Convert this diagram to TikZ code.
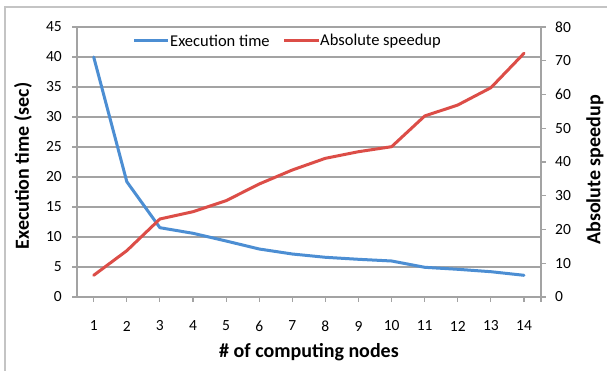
\documentclass[tikz,border=0pt]{standalone}
\usepackage{fontspec}
\setmainfont{Carlito}
\definecolor{serblue}{HTML}{4C8ED3}
\definecolor{serred}{HTML}{DC4D47}
\definecolor{gridgray}{HTML}{A3A3A3}
\definecolor{framegray}{HTML}{C4C4C4}
\begin{document}
\begin{tikzpicture}[x=1pt,y=-1pt,
  grid/.style={gridgray,line width=1.1pt},
  series/.style={line width=3pt,line join=round,line cap=round},
  ticklab/.style={font=\fontsize{15.5}{15.5}\selectfont,inner sep=0pt},
  axtitle/.style={font=\bfseries\fontsize{20}{20}\selectfont,inner sep=0pt},
  legtext/.style={font=\fontsize{16.5}{16.5}\selectfont,inner sep=0pt,anchor=west}]
\useasboundingbox (0,0) rectangle (607,371);
\fill[white] (0,0) rectangle (607,371);
\draw[framegray,line width=1.2pt] (5,371) -- (5,7) -- (607,7);
% grid and left axis
\foreach \k in {0,...,9}{
  \draw[grid] (72,{297-30*\k}) -- (541,{297-30*\k});
  \pgfmathtruncatemacro\lab{5*\k}
  \node[ticklab,anchor=east] at (62,{297-30*\k}) {\lab};
}
\draw[grid] (77,27) -- (77,297);
% right axis
\draw[grid] (541,27) -- (541,297);
\foreach \k in {0,...,8}{
  \draw[grid] (541,{297-33.75*\k}) -- (546,{297-33.75*\k});
  \pgfmathtruncatemacro\lab{10*\k}
  \node[ticklab,anchor=west] at (555,{297-33.75*\k}) {\lab};
}
% category ticks and labels
\foreach \i in {1,...,14}{
  \draw[grid] ({93.7+33.1*(\i-1)},297) -- ({93.7+33.1*(\i-1)},302);
  \node[ticklab] at ({93.7+33.1*(\i-1)},326) {\i};
}
\draw[grid] (541,297) -- (541,302);
% execution time
\draw[series,serblue] plot coordinates {
 (93.7,57) (126.8,181.7) (159.9,227.7) (193.0,233.3) (226.1,241) (259.2,249)
 (292.3,254) (325.4,257.3) (358.5,259.3) (391.6,261) (424.7,267.3) (457.8,269.3)
 (490.9,271.7) (524.0,275.3)};
% speedup
\draw[series,serred] plot coordinates {
 (93.7,275.3) (126.8,250.7) (159.9,219) (193.0,211.7) (226.1,200.7) (259.2,184)
 (292.3,170) (325.4,158.3) (358.5,151.7) (391.6,146.7) (424.7,116) (457.8,105)
 (490.9,87.7) (524.0,53.3)};
% legend
\coordinate (lb1) at (134,41);
\coordinate (lb2) at (168,41);
\draw[series,serblue,line cap=butt] (lb1) -- (lb2);
\node[legtext] (lt1) at (170,41) {Execution time};
\coordinate (lr1) at (284,41);
\coordinate (lr2) at (319,41);
\draw[series,serred,line cap=butt] (lr1) -- (lr2);
\node[legtext] (lt2) at (320,41) {Absolute speedup};
% titles
\node[axtitle,rotate=90] (yl) at (23,166) {Execution time (sec)};
\node[axtitle,rotate=90] (yr) at (595,170) {Absolute speedup};
\node[axtitle] (xl) at (309,352) {\# of computing nodes};
\end{tikzpicture}
\end{document}
